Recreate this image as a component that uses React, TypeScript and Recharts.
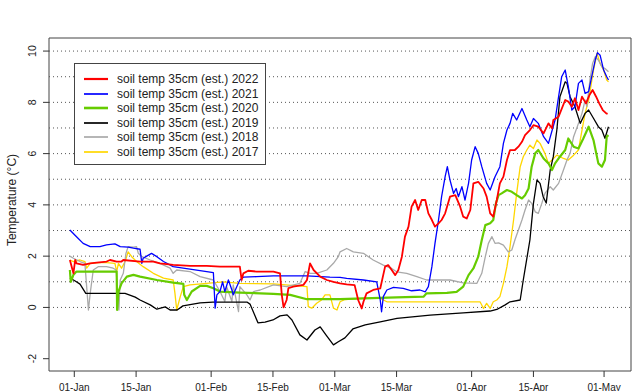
import { LineChart, Line, XAxis, YAxis, ReferenceLine, ReferenceArea } from "recharts";

type Pt = [number, number];

// [day since 01-Jan, soil temperature °C]
const t2022: Pt[] = [
  [-1.0, 1.85], [-0.2, 1.33], [0.2, 1.85], [0.5, 1.72], [2.0, 1.66], [3.6, 1.72], [5.1, 1.75], [7.3, 1.79],
  [8.1, 1.85], [9.6, 1.79], [10.7, 1.79], [11.1, 1.85], [14.9, 1.79], [17.9, 1.79], [19.4, 1.72], [22.4, 1.66],
  [26.2, 1.62], [30.0, 1.62], [33.0, 1.59], [37.5, 1.59], [37.9, 1.07], [38.3, 1.33], [39.4, 1.43], [41.3, 1.4],
  [45.1, 1.4], [46.6, 1.33], [47.0, 0.49], [47.4, 0.0], [48.1, 0.29], [48.5, 0.75], [49.6, 0.81], [51.9, 0.88],
  [52.7, 1.07], [53.4, 1.72], [54.2, 1.46], [55.7, 1.2], [57.2, 1.07], [58.7, 1.0], [60.2, 0.94], [61.7, 0.9],
  [63.5, 0.87], [64.3, 0.29], [65.1, -0.04], [65.5, 0.22], [66.2, 0.55], [67.7, 0.68], [69.3, 0.74], [70.4, 1.59],
  [71.1, 1.65], [71.9, 1.46], [72.7, 1.26], [73.4, 1.46], [74.2, 1.98], [74.9, 2.76], [75.7, 3.15], [76.4, 3.93],
  [77.2, 4.19], [77.9, 3.8], [78.7, 4.19], [79.5, 4.19], [80.2, 3.67], [81.0, 3.41], [81.7, 3.15], [82.5, 3.28],
  [83.2, 3.41], [84.0, 3.67], [85.1, 4.32], [86.3, 4.38], [87.4, 3.93], [88.1, 3.54], [88.9, 3.47], [89.7, 3.8],
  [90.4, 4.84], [91.5, 4.9], [92.7, 4.64], [93.4, 4.32], [94.2, 3.67], [94.9, 3.54], [95.7, 4.19], [96.4, 4.84],
  [97.2, 5.1], [98.0, 5.75], [98.7, 6.14], [99.8, 6.14], [100.6, 6.27], [101.4, 6.46], [102.1, 6.72], [103.2, 6.92],
  [104.0, 7.11], [105.1, 7.05], [106.3, 6.79], [107.4, 7.18], [108.2, 6.99], [108.5, 7.31], [109.7, 7.44], [111.2, 8.09],
  [111.9, 8.03], [112.7, 7.83], [113.4, 8.16], [114.2, 7.7], [115.0, 8.22], [115.9, 7.96], [116.7, 8.29], [117.4, 8.48],
  [118.2, 8.22], [118.9, 7.96], [119.7, 7.7], [120.5, 7.57], [120.8, 7.55],
];

const t2021: Pt[] = [
  [-1.0, 3.02], [0.5, 2.76], [2.0, 2.5], [3.6, 2.37], [5.8, 2.37], [7.3, 2.44], [9.2, 2.48], [10.4, 2.37],
  [12.2, 2.35], [13.4, 2.31], [14.9, 2.27], [15.3, 1.72], [15.6, 1.92], [16.4, 2.0], [17.5, 2.11], [18.7, 1.98],
  [20.2, 1.79], [22.4, 1.59], [26.2, 1.49], [30.0, 1.4], [31.5, 1.36], [31.9, -0.03], [32.3, 0.49], [33.0, 0.62],
  [33.6, 1.0], [34.1, 0.62], [34.9, 1.07], [35.7, 0.68], [36.0, 0.49], [36.8, 0.81], [37.5, 1.07], [38.3, 1.18],
  [41.3, 1.2], [45.1, 1.23], [52.7, 1.23], [57.9, 1.18], [60.2, 1.17], [61.7, 1.13], [65.5, 1.07], [68.5, 1.0],
  [69.3, 0.29], [69.6, -0.17], [70.0, 0.42], [70.8, 0.68], [72.3, 0.78], [74.5, 0.74], [76.4, 0.65], [78.3, 0.68],
  [79.5, 0.61], [80.2, 0.81], [81.0, 1.59], [81.7, 2.5], [82.5, 3.41], [83.2, 4.32], [84.0, 5.1], [84.5, 5.49],
  [85.1, 4.97], [85.9, 4.45], [86.5, 4.64], [87.0, 4.32], [87.8, 4.71], [88.5, 4.19], [89.3, 4.84], [90.0, 5.75],
  [90.8, 6.27], [91.5, 6.01], [92.3, 5.49], [93.4, 4.84], [94.2, 4.58], [95.3, 5.1], [96.4, 5.49], [97.2, 6.4],
  [98.0, 6.92], [98.7, 7.18], [99.3, 7.57], [100.2, 7.31], [101.4, 7.76], [102.5, 7.31], [103.2, 7.05], [104.0, 7.37],
  [105.1, 7.18], [106.3, 6.66], [107.4, 6.4], [108.9, 7.31], [109.7, 8.22], [110.4, 9.0], [111.2, 9.26], [111.9, 8.61],
  [112.7, 7.7], [113.4, 7.83], [114.2, 8.74], [115.0, 8.87], [115.7, 8.35], [116.5, 8.42], [117.2, 9.0], [118.0, 9.65],
  [118.5, 9.94], [119.1, 9.84], [119.9, 9.26], [120.6, 9.0], [121.0, 8.87],
];

const t2020: Pt[] = [
  [-1.0, 1.46], [-0.8, 1.0], [-0.2, 1.27], [0.5, 1.4], [3.6, 1.4], [7.3, 1.4], [9.6, 1.4], [9.7, -0.1],
  [10.0, 0.62], [10.7, 0.94], [11.9, 1.2], [13.4, 1.27], [14.9, 1.2], [18.7, 1.07], [22.4, 0.97], [24.7, 0.92],
  [24.9, 0.49], [25.5, 0.29], [26.6, 0.62], [28.5, 0.84], [30.0, 0.84], [31.5, 0.75], [33.0, 0.62], [37.5, 0.58],
  [45.1, 0.53], [48.9, 0.49], [52.7, 0.32], [60.2, 0.32], [65.5, 0.35], [73.0, 0.39], [79.1, 0.42], [79.8, 0.55],
  [84.4, 0.57], [86.6, 0.61], [88.1, 0.81], [89.3, 1.26], [90.4, 1.52], [91.5, 1.98], [92.3, 2.63], [93.1, 3.21],
  [94.2, 3.28], [94.9, 3.41], [95.5, 4.06], [96.1, 4.38], [96.8, 4.45], [98.0, 4.58], [99.1, 4.51], [100.2, 4.38],
  [101.4, 4.25], [102.1, 4.38], [102.9, 4.64], [103.6, 5.49], [104.4, 6.01], [105.1, 6.14], [106.3, 5.81], [107.4, 5.62],
  [108.2, 5.36], [108.9, 5.62], [110.0, 5.88], [111.2, 6.14], [111.9, 6.59], [113.1, 6.27], [114.2, 6.2], [115.3, 6.59],
  [116.5, 7.05], [117.6, 6.53], [118.7, 5.62], [119.5, 5.49], [120.2, 5.75], [120.6, 6.66], [121.0, 6.72],
];

const t2019: Pt[] = [
  [-1.0, 1.15], [0.2, 1.03], [1.3, 0.91], [2.6, 0.55], [11.5, 0.55], [13.8, 0.4], [14.9, 0.29], [17.2, 0.1],
  [18.7, -0.07], [20.6, 0.02], [21.7, -0.1], [23.3, -0.1], [24.6, 0.06], [28.5, 0.18], [31.4, 0.21], [39.1, 0.21],
  [39.8, 0.13], [41.6, -0.6], [43.2, -0.57], [45.0, -0.49], [46.6, -0.33], [48.2, -0.29], [49.3, -0.49], [51.1, -1.07],
  [52.7, -1.27], [54.5, -0.88], [55.7, -0.76], [57.0, -1.07], [58.7, -1.46], [59.8, -1.34], [61.3, -1.19], [63.1, -0.84],
  [65.9, -0.68], [69.3, -0.56], [73.1, -0.43], [80.6, -0.3], [88.1, -0.21], [94.2, -0.14], [95.7, -0.08], [97.6, 0.1],
  [98.7, 0.22], [101.0, 0.29], [101.7, 1.07], [103.2, 2.63], [104.0, 4.06], [104.8, 4.97], [105.5, 4.84], [106.2, 4.32],
  [106.9, 4.07], [107.8, 5.36], [108.5, 5.88], [109.3, 6.92], [110.0, 8.22], [111.2, 8.8], [111.6, 8.74], [112.3, 8.22],
  [113.4, 7.83], [114.6, 7.18], [115.7, 7.57], [116.5, 7.7], [117.6, 7.38], [118.7, 7.05], [119.5, 6.92], [120.2, 6.6],
  [121.0, 7.05],
];

const t2018: Pt[] = [
  [-1.0, 2.0], [-0.2, 1.92], [1.3, 1.79], [2.4, 1.72], [2.8, 0.81], [3.2, -0.1], [3.6, 0.55], [4.3, 1.46],
  [5.4, 1.59], [7.3, 1.59], [8.8, 1.53], [9.5, 1.46], [9.7, 0.81], [10.1, -0.1], [10.4, 1.07], [11.1, 1.33],
  [11.7, 2.11], [12.2, 2.37], [13.4, 2.35], [14.1, 2.37], [14.5, 2.11], [15.3, 1.98], [17.2, 1.85], [19.4, 1.72],
  [21.7, 1.53], [22.4, 1.33], [23.2, 1.46], [26.2, 1.4], [28.5, 1.2], [31.5, 1.07], [33.0, 0.62], [34.1, 0.23],
  [34.5, 0.81], [35.7, 0.23], [36.0, 0.88], [37.2, -0.16], [37.5, 0.81], [39.1, 0.49], [39.8, 0.29], [40.6, 0.62],
  [42.1, 0.68], [45.1, 0.88], [48.1, 0.81], [51.1, 0.94], [52.3, 1.4], [53.4, 1.33], [54.9, 1.33], [57.2, 1.46],
  [58.7, 1.72], [59.8, 1.98], [60.2, 2.17], [61.7, 2.3], [63.2, 2.17], [65.5, 2.11], [67.7, 1.85], [70.0, 1.65],
  [71.9, 1.52], [73.0, 1.39], [75.3, 1.33], [77.6, 1.2], [79.8, 1.07], [82.1, 1.07], [85.1, 1.07], [88.1, 0.96],
  [91.2, 0.94], [92.3, 1.33], [93.1, 1.98], [93.8, 2.5], [94.6, 2.76], [95.3, 2.5], [96.1, 2.52], [97.2, 2.43],
  [98.3, 2.17], [99.1, 2.24], [99.8, 2.63], [100.6, 3.02], [101.4, 3.41], [102.1, 3.8], [102.9, 4.19], [103.6, 4.06],
  [104.4, 3.73], [105.1, 3.67], [105.9, 4.06], [106.6, 4.45], [107.8, 4.71], [108.5, 4.58], [109.7, 4.84], [110.8, 5.36],
  [111.6, 5.75], [112.3, 6.01], [113.1, 6.66], [114.2, 7.18], [115.0, 7.57], [115.7, 8.09], [116.1, 7.83], [116.8, 8.87],
  [117.4, 9.52], [118.0, 9.78], [118.7, 9.65], [119.5, 9.39], [120.2, 9.32], [121.0, 9.19],
];

const t2017: Pt[] = [
  [-1.0, 1.85], [-0.2, 1.79], [1.3, 1.85], [2.4, 1.79], [2.8, 1.53], [3.6, 1.72], [5.4, 1.75], [7.3, 1.75],
  [9.2, 1.72], [9.6, 1.4], [10.0, 1.72], [10.7, 1.53], [11.5, 1.79], [12.2, 2.17], [13.0, 1.98], [14.1, 1.79],
  [15.6, 1.59], [17.9, 1.33], [20.2, 1.14], [22.4, 1.07], [22.8, 0.55], [23.2, -0.1], [24.0, 0.42], [24.7, 0.81],
  [26.2, 0.88], [30.0, 0.94], [33.8, 1.0], [37.5, 0.94], [45.1, 0.92], [52.7, 0.81], [53.0, 0.03], [53.8, -0.03],
  [54.9, 0.16], [56.0, 0.29], [56.8, 0.49], [57.9, 0.49], [58.7, -0.03], [59.5, -0.1], [60.2, 0.22], [61.3, 0.31],
  [65.5, 0.35], [69.3, 0.35], [70.8, 0.22], [76.8, 0.22], [80.6, 0.22], [88.1, 0.22], [91.9, 0.22], [92.7, -0.04],
  [93.4, 0.16], [94.2, -0.04], [94.9, 0.22], [95.7, 0.29], [96.4, 0.42], [97.2, 0.94], [98.0, 1.59], [98.7, 2.37],
  [99.5, 3.41], [100.2, 4.45], [101.0, 5.49], [101.7, 5.88], [102.5, 6.14], [103.2, 6.33], [104.0, 6.2], [104.8, 6.53],
  [105.5, 6.4], [106.6, 6.01], [107.4, 5.62], [108.2, 5.75], [109.3, 5.94], [110.8, 5.81], [111.9, 5.75], [113.1, 5.94],
  [114.2, 6.14], [115.0, 6.92], [115.7, 7.57], [116.5, 8.09], [117.6, 9.26], [118.4, 9.91], [119.1, 9.52], [119.9, 9.26],
  [120.6, 8.87], [121.0, 8.8],
];

const xTicks = [0, 14, 31, 45, 59, 73, 90, 104, 120];
const xTickLabels = ["01-Jan", "15-Jan", "01-Feb", "15-Feb", "01-Mar", "15-Mar", "01-Apr", "15-Apr", "01-May"];
const yTicks = [-2, 0, 2, 4, 6, 8, 10];
const gridValues = [0, 1, 2, 3, 4, 5, 6, 7, 8, 9, 10];

const X_DOMAIN: [number, number] = [-5.73, 126.1];
const Y_DOMAIN: [number, number] = [-2.48, 10.51];

const FONT = "'Liberation Sans', Arial, sans-serif";

const series = [
  { name: "soil temp 35cm (est.) 2022", color: "#ff0000", width: 1.8, pts: t2022 },
  { name: "soil temp 35cm (est.) 2021", color: "#0000ff", width: 1.3, pts: t2021 },
  { name: "soil temp 35cm (est.) 2020", color: "#66cc00", width: 2.2, pts: t2020 },
  { name: "soil temp 35cm (est.) 2019", color: "#000000", width: 1.3, pts: t2019 },
  { name: "soil temp 35cm (est.) 2018", color: "#a9a9a9", width: 1.3, pts: t2018 },
  { name: "soil temp 35cm (est.) 2017", color: "#ffd700", width: 1.3, pts: t2017 },
];

const XTick = (props: any) => {
  const { x, payload } = props;
  const i = xTicks.indexOf(payload.value);
  return (
    <text x={x} y={387} textAnchor="middle" dominantBaseline="central" fontSize={10} fill="#222" fontFamily={FONT}>
      {i >= 0 ? xTickLabels[i] : ""}
    </text>
  );
};

const YTick = (props: any) => {
  const { y, payload } = props;
  return (
    <text
      x={32}
      y={y}
      transform={`rotate(-90 32 ${y})`}
      textAnchor="middle"
      dominantBaseline="central"
      fontSize={10.5}
      fill="#222"
      fontFamily={FONT}
    >
      {payload.value}
    </text>
  );
};

const YLabel = () => (
  <text
    x={12}
    y={200}
    transform="rotate(-90 12 200)"
    textAnchor="middle"
    dominantBaseline="central"
    fontSize={12}
    fill="#222"
    fontFamily={FONT}
  >
    Temperature (°C)
  </text>
);

export default function App() {
  return (
    <div style={{ position: "relative", width: 640, height: 391 }}>
      <style>{`body { margin: 0; }`}</style>
      <LineChart width={640} height={391} margin={{ top: 38, right: 9, left: 0, bottom: 0 }}>
        <XAxis
          type="number"
          dataKey="d"
          domain={X_DOMAIN}
          allowDataOverflow
          ticks={xTicks}
          tick={<XTick />}
          tickSize={6}
          tickLine={{ stroke: "#333" }}
          axisLine={false}
          height={20}
        />
        <YAxis
          type="number"
          dataKey="v"
          domain={Y_DOMAIN}
          allowDataOverflow
          ticks={yTicks}
          tick={<YTick />}
          tickSize={6}
          tickLine={{ stroke: "#333" }}
          axisLine={false}
          width={49}
          label={<YLabel />}
        />
        {gridValues.map((g) => (
          <ReferenceLine key={g} y={g} stroke="#555" strokeDasharray="1 3" />
        ))}
        {[...series].reverse().map((s) => (
          <Line
            key={s.name}
            data={s.pts.map(([d, v]) => ({ d, v }))}
            dataKey="v"
            type="linear"
            stroke={s.color}
            strokeWidth={s.width}
            strokeLinejoin="round"
            dot={false}
            activeDot={false}
            isAnimationActive={false}
          />
        ))}
        <ReferenceArea
          x1={X_DOMAIN[0]}
          x2={X_DOMAIN[1]}
          y1={Y_DOMAIN[0]}
          y2={Y_DOMAIN[1]}
          fill="none"
          fillOpacity={0}
          stroke="#444"
          strokeWidth={1}
        />
      </LineChart>
      <div
        style={{
          position: "absolute",
          left: 74,
          top: 63,
          width: 192,
          height: 102,
          boxSizing: "border-box",
          border: "1px solid #444",
          background: "#fff",
          paddingTop: 8,
          paddingLeft: 9,
          fontFamily: FONT,
          fontSize: 12,
          color: "#222",
        }}
      >
        {series.map((s) => (
          <div key={s.name} style={{ display: "flex", alignItems: "center", height: 14.5, whiteSpace: "nowrap" }}>
            <svg width={24} height={6} style={{ marginRight: 9, flexShrink: 0 }}>
              <line x1={0} y1={3} x2={24} y2={3} stroke={s.color} strokeWidth={s.width + 0.4} />
            </svg>
            <span>{s.name}</span>
          </div>
        ))}
      </div>
    </div>
  );
}
